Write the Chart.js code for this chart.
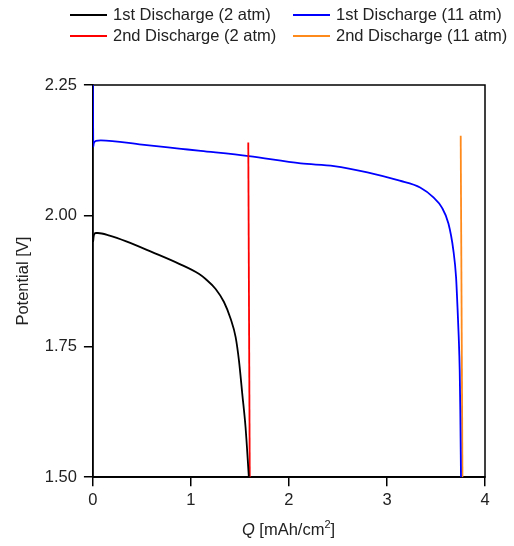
<!DOCTYPE html>
<html>
<head>
<meta charset="utf-8">
<script src="https://cdn.jsdelivr.net/npm/chart.js@4"></script>
<style>
  html, body { margin: 0; padding: 0; background: #fff; }
  #wrap { position: relative; width: 514px; height: 546px; }
  #legend { position: absolute; left: 0; top: 0; width: 514px; font-family: "Liberation Sans", Arial, sans-serif; font-size: 16.5px; color: #222; }
  .item { position: absolute; display: flex; align-items: center; white-space: nowrap; }
  .swatch { display: inline-block; width: 37px; height: 2px; margin-right: 6px; }
  #xtitle { position: absolute; left: 92px; width: 393px; text-align: center; top: 518px; font-family: "Liberation Sans", Arial, sans-serif; font-size: 16.5px; color: #222; }
  canvas { position: absolute; left: 0; top: 0; }
</style>
</head>
<body>
<div id="wrap">
  <canvas id="c" width="514" height="546"></canvas>
  <div id="legend"></div>
  <div id="xtitle"><i>Q</i> [mAh/cm<sup style="font-size:11px">2</sup>]</div>
</div>
<script>
// ---- data ----
const seriesLabels = ["1st Discharge (2 atm)", "2nd Discharge (2 atm)", "1st Discharge (11 atm)", "2nd Discharge (11 atm)"];
const seriesColors = ["#000000", "#ff0000", "#0000ff", "#ff8a1c"];

const q1_2atm = [0, 0.003, 0.006, 0.012, 0.03, 0.05, 0.17, 0.34, 0.61, 0.88, 1.08, 1.15, 1.252, 1.337, 1.405, 1.456, 1.49, 1.524, 1.557, 1.591];
const v1_2atm = [1.95, 1.952, 1.958, 1.964, 1.967, 1.967, 1.962, 1.951, 1.930, 1.908, 1.889, 1.879, 1.860, 1.835, 1.803, 1.768, 1.723, 1.659, 1.596, 1.5];

const q2_2atm = [1.585, 1.60];
const v2_2atm = [2.14, 1.5];

const q1_11atm = [0, 0.002, 0.004, 0.008, 0.03, 0.08, 0.5, 0.9, 1.10, 1.59, 2.12, 2.46, 2.80, 3.13, 3.338, 3.474, 3.559, 3.627, 3.678, 3.705, 3.718, 3.732, 3.742, 3.748, 3.755];
const v1_11atm = [2.25, 2.18, 2.132, 2.138, 2.143, 2.144, 2.136, 2.128, 2.124, 2.114, 2.100, 2.095, 2.083, 2.067, 2.054, 2.035, 2.016, 1.985, 1.933, 1.882, 1.831, 1.768, 1.704, 1.628, 1.5];

const q2_11atm = [3.752, 3.77];
const v2_11atm = [2.153, 1.5];

const xTicks = [0, 1, 2, 3, 4];
const yTicks = [1.50, 1.75, 2.00, 2.25];

const seriesQ = [q1_2atm, q2_2atm, q1_11atm, q2_11atm];
const seriesV = [v1_2atm, v2_2atm, v1_11atm, v2_11atm];

// ---- legend (HTML) ----
const legendPos = [[70, 15], [70, 36], [293, 15], [293, 36]];
const legendEl = document.getElementById('legend');
seriesLabels.forEach((lab, i) => {
  const d = document.createElement('div');
  d.className = 'item';
  d.style.left = legendPos[i][0] + 'px';
  d.style.top = (legendPos[i][1] - 10) + 'px';
  const s = document.createElement('span');
  s.className = 'swatch';
  s.style.background = seriesColors[i];
  const t = document.createElement('span');
  t.textContent = lab;
  d.appendChild(s); d.appendChild(t);
  legendEl.appendChild(d);
});

const frame = {
  id: 'frame',
  beforeDatasetsDraw(chart) {
    const a = chart.chartArea, ctx = chart.ctx;
    ctx.save();
    ctx.strokeStyle = '#000';
    ctx.lineWidth = 1.5;
    ctx.strokeRect(a.left, a.top, a.right - a.left, a.bottom - a.top);
    ctx.restore();
  }
};

const font = { family: '"Liberation Sans", Arial, sans-serif', size: 16.5 };

new Chart(document.getElementById('c'), {
  type: 'scatter',
  data: {
    datasets: seriesLabels.map((lab, i) => ({
      label: lab,
      data: seriesQ[i].map((q, j) => ({ x: q, y: seriesV[i][j] })),
      showLine: true,
      borderColor: seriesColors[i],
      backgroundColor: seriesColors[i],
      borderWidth: 1.8,
      pointRadius: 0,
      cubicInterpolationMode: 'monotone'
    }))
  },
  options: {
    responsive: false,
    animation: false,
    devicePixelRatio: 1,
    layout: { padding: { top: 85, right: 29, left: 14, bottom: 32 } },
    plugins: { legend: { display: false }, tooltip: { enabled: false } },
    scales: {
      x: {
        type: 'linear', min: 0, max: 4,
        afterBuildTicks: s => { s.ticks = xTicks.map(v => ({ value: v })); },
        ticks: { color: '#222', font, padding: 4, maxRotation: 0 },
        grid: { drawOnChartArea: false, tickLength: 9, color: '#000', lineWidth: 1.5 },
        border: { color: '#000', width: 1.5 }
      },
      y: {
        type: 'linear', min: 1.5, max: 2.25,
        afterBuildTicks: s => { s.ticks = yTicks.map(v => ({ value: v })); },
        ticks: { color: '#222', font, padding: 7, callback: v => Number(v).toFixed(2) },
        grid: { drawOnChartArea: false, tickLength: 9, color: '#000', lineWidth: 1.5 },
        border: { color: '#000', width: 1.5 },
        title: { display: true, text: 'Potential [V]', color: '#222', font, padding: { top: 0, bottom: 4 } }
      }
    }
  },
  plugins: [frame]
});
</script>
</body>
</html>
